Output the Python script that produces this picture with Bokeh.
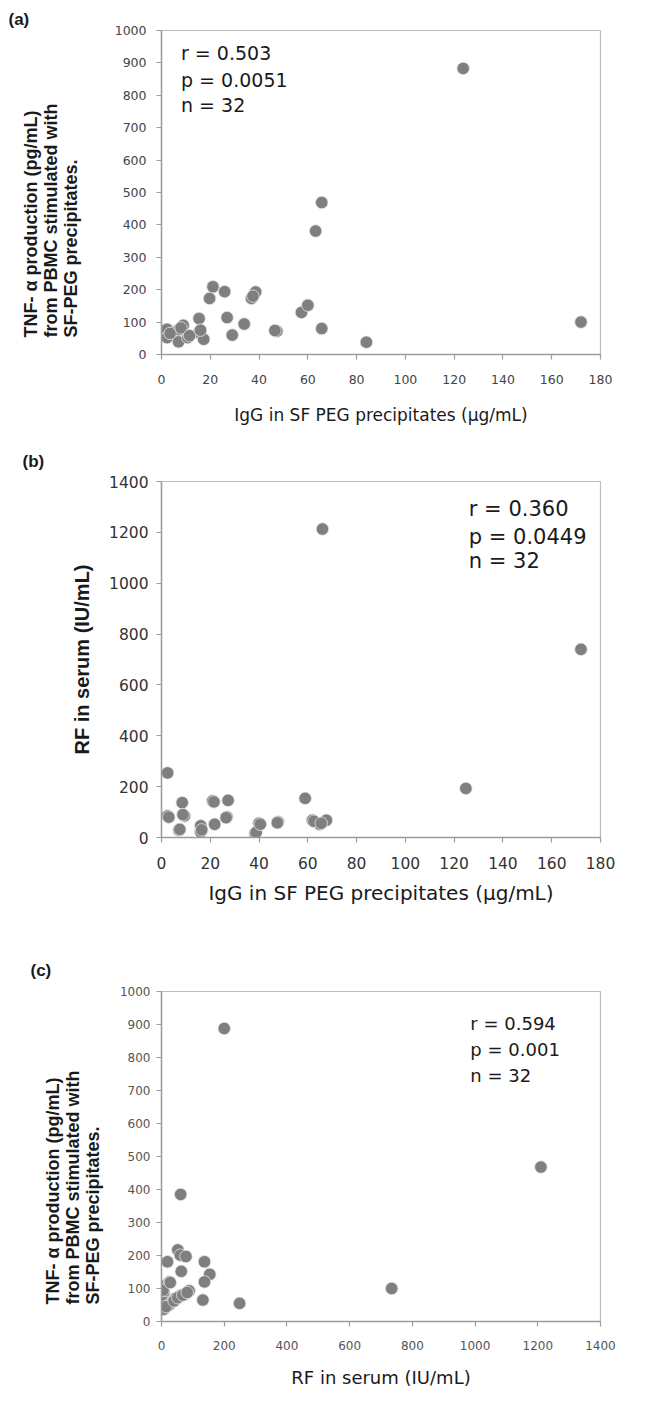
from bokeh.plotting import figure
from bokeh.models import Range1d, FixedTicker, Label, Title
from bokeh.layouts import column
from bokeh.embed import file_html
from bokeh.resources import INLINE

# ---------------- data ----------------
# (a) IgG in SF PEG precipitates vs TNF-alpha production
a_igg = [2.3, 2.3, 7, 7, 8.9, 10.8, 15.4, 15.3, 17.3, 19.7, 21.1, 25.9, 26.9, 29,
         33.9, 36.9, 38.6, 47.3, 57.4, 60, 63.2, 65.7, 65.7, 84, 123.7, 172,
         3.5, 8, 11.5, 16, 46.5, 37.5]
a_tnf = [78, 52, 76, 39, 90, 52, 111, 68, 47, 173, 209, 194, 114, 60,
         94, 173, 193, 72, 130, 152, 381, 469, 80, 38, 883, 100,
         65, 82, 58, 75, 74, 180]

# (b) IgG in SF PEG precipitates vs RF in serum
b_igg = [2.5, 2.5, 7.2, 8.5, 9.4, 16.1, 16.1, 21, 21.8, 26.8, 27.3, 38.4, 40, 47.8,
         58.9, 61.9, 64.8, 67.6, 66, 124.8, 172,
         3, 7.5, 16.5, 21.5, 26.5, 38.8, 40.5, 47.5, 62.5, 65.5, 8.8]
b_rf = [254, 85, 29, 137, 85, 22, 46, 144, 52, 81, 146, 17, 56, 61,
        154, 68, 52, 68, 1213, 193, 740,
        80, 32, 30, 140, 78, 20, 52, 58, 64, 56, 90]

# (c) RF in serum vs TNF-alpha production
c_rf = [200, 61, 1210, 734, 249, 52, 60, 78, 19, 63, 137, 154, 137, 132, 9, 26, 7, 9,
        7, 32, 44, 60, 75, 88, 24,
        15, 40, 52, 68, 82, 5, 28]
c_tnf = [888, 385, 468, 100, 55, 217, 201, 197, 181, 152, 181, 143, 120, 65, 108, 120,
         88, 58, 37, 58, 70, 78, 83, 93, 50,
         45, 62, 72, 80, 88, 95, 118]

igg_ticks = [0, 20, 40, 60, 80, 100, 120, 140, 160, 180]
tnf_ticks = [0, 100, 200, 300, 400, 500, 600, 700, 800, 900, 1000]
rf_ticks_b = [0, 200, 400, 600, 800, 1000, 1200, 1400]
rf_ticks_c = [0, 200, 400, 600, 800, 1000, 1200, 1400]

stats_a = ["r = 0.503", "p = 0.0051", "n = 32"]
stats_b = ["r = 0.360", "p = 0.0449", "n = 32"]
stats_c = ["r = 0.594", "p = 0.001", "n = 32"]

tnf_title = ["TNF- \u03b1 production (pg/mL)", "from PBMC stimulated with", "SF-PEG precipitates."]
igg_title = "IgG in SF PEG precipitates (\u00b5g/mL)"
rf_title = "RF in serum (IU/mL)"

FONT = "DejaVu Sans"
TFONT = "Liberation Sans"
PT_COLOR = "#7f7f7f"
DARK = "#1a1a1a"


def base(width, height, bl, br, bt, bb, xmax, ymax, xticks, yticks,
         tick_size, tick_color, xstand, ystand):
    p = figure(width=width, height=height,
               x_range=Range1d(0, xmax), y_range=Range1d(0, ymax),
               output_backend="svg", toolbar_location=None,
               min_border_left=bl, min_border_right=br,
               min_border_top=bt, min_border_bottom=bb)
    p.grid.visible = False
    p.outline_line_color = "#bdbdbd"
    p.outline_line_width = 1.2
    p.background_fill_color = "white"
    p.border_fill_color = "white"
    p.xaxis.ticker = FixedTicker(ticks=xticks)
    p.yaxis.ticker = FixedTicker(ticks=yticks)
    for ax in (p.xaxis[0], p.yaxis[0]):
        ax.axis_line_color = "#9c9c9c"
        ax.axis_line_width = 1.5
        ax.major_tick_line_color = "#9c9c9c"
        ax.major_tick_line_width = 1.2
        ax.major_tick_in = 0
        ax.major_tick_out = 5
        ax.minor_tick_line_color = None
        ax.major_label_text_font = FONT
        ax.major_label_text_font_size = f"{tick_size}px"
        ax.major_label_text_color = tick_color
    p.xaxis.major_label_standoff = xstand
    p.yaxis.major_label_standoff = ystand
    return p


def panel_tag(p, text, offset, standoff):
    p.title.text = text
    p.title.align = "left"
    p.title.offset = offset
    p.title.vertical_align = "top"
    p.title.standoff = standoff
    p.title.text_font = TFONT
    p.title.text_font_size = "17px"
    p.title.text_font_style = "bold"
    p.title.text_color = DARK


def x_title(p, text, size, standoff):
    p.xaxis.axis_label = text
    p.xaxis.axis_label_text_font = FONT
    p.xaxis.axis_label_text_font_size = f"{size}px"
    p.xaxis.axis_label_text_font_style = "normal"
    p.xaxis.axis_label_text_color = DARK
    p.xaxis.axis_label_standoff = standoff


def multi_y_title(p, lines, spacer, offset):
    # spacer: invisible axis label to push the title lines outward
    p.yaxis.axis_label = " "
    p.yaxis.axis_label_text_font_size = "1px"
    p.yaxis.axis_label_standoff = spacer
    for s in reversed(lines):  # innermost first
        p.add_layout(Title(text=s, align="left", offset=offset, standoff=-2,
                           vertical_align="bottom", text_font=TFONT,
                           text_font_size="18px", text_font_style="bold",
                           text_color=DARK), "left")


def stats(p, lines, x, ys, size):
    for s, y in zip(lines, ys):
        p.add_layout(Label(x=x, y=y, text=s, text_font=FONT,
                           text_font_size=f"{size}px", text_color=DARK,
                           text_baseline="middle", text_align="left"))


def points(p, xs, ys):
    p.scatter(xs, ys, size=12.5, fill_color=PT_COLOR, line_color="#e4e4e4",
              line_width=0.8)


W = 653

# ---------------- panel (a) ----------------
pa = base(W, 442, 161, 21, 30, 88, 180, 1000, igg_ticks, tnf_ticks,
          12.5, "#444444", 15, 10)
points(pa, a_igg, a_tnf)
stats(pa, stats_a, 8, [932, 846, 769], 19)
panel_tag(pa, "(a)", -153, 0)
multi_y_title(pa, tnf_title, 28, 17)
x_title(pa, igg_title, 17, 18)

# ---------------- panel (b) ----------------
pb = base(W, 505, 147, 22, 37, 110, 180, 1400, igg_ticks, rf_ticks_b,
          15.5, "#333333", 14, 8)
points(pb, b_igg, b_rf)
stats(pb, stats_b, 126, [1290, 1181, 1087], 21)
panel_tag(pb, "(b)", -139, 18)
pb.yaxis.axis_label = rf_title
pb.yaxis.axis_label_text_font = TFONT
pb.yaxis.axis_label_text_font_size = "20px"
pb.yaxis.axis_label_text_font_style = "bold"
pb.yaxis.axis_label_text_color = DARK
pb.yaxis.axis_label_standoff = 13
x_title(pb, igg_title, 20, 9)

# ---------------- panel (c) ----------------
pc = base(W, 450, 139, 53, 44, 76, 1400, 1000, rf_ticks_c, tnf_ticks,
          12, "#555555", 14, 6)
points(pc, c_rf, c_tnf)
stats(pc, stats_c, 985, [903, 824, 745], 18)
panel_tag(pc, "(c)", -131, 19)
multi_y_title(pc, tnf_title, 11, 17)
x_title(pc, rf_title, 18, 14)

layout = column(pa, pb, pc)
open("out.html", "w").write(file_html(layout, INLINE))
